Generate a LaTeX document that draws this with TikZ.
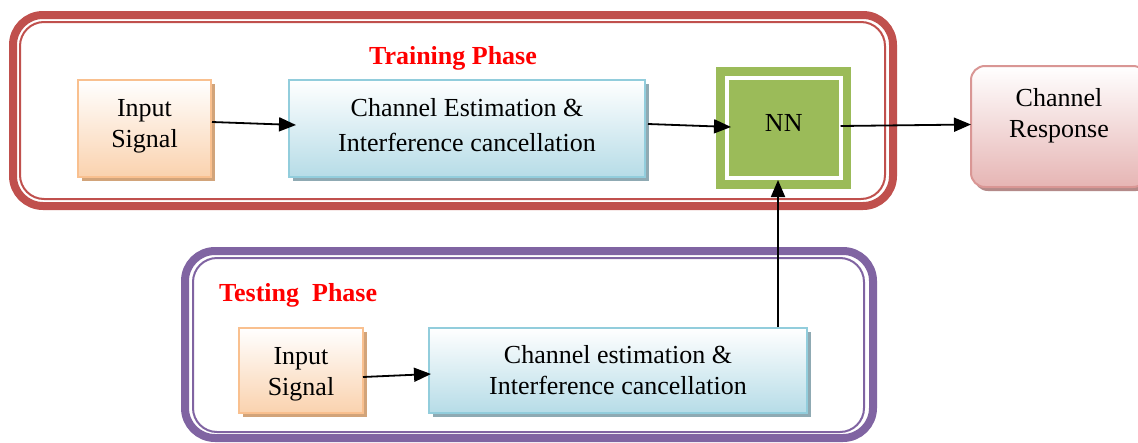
\documentclass[tikz,border=0pt]{standalone}
\usepackage{fontspec}
\setmainfont{Liberation Serif}
\usetikzlibrary{arrows.meta,shadows,calc}
\definecolor{framered}{HTML}{C0504D}
\definecolor{framepurple}{HTML}{8064A2}
\definecolor{nngreen}{HTML}{9BBB59}
\definecolor{orbord}{HTML}{F9C08F}
\definecolor{orfill}{HTML}{FAD2AE}
\definecolor{orshad}{HTML}{D2A47A}
\definecolor{blbord}{HTML}{92CDDC}
\definecolor{blfill}{HTML}{B6DCE7}
\definecolor{blshad}{HTML}{8FAAB3}
\definecolor{rdbord}{HTML}{D99694}
\definecolor{rdfill}{HTML}{E6B5B4}
\definecolor{rdshad}{HTML}{B48A89}
\newcommand{\mytwo}[3]{\raisebox{#1}[\height][\depth]{\begin{tabular}{@{}c@{}}#2\\#3\end{tabular}}}
\begin{document}
\begin{tikzpicture}[x=1pt,y=-1pt,
  every node/.style={font=\fontsize{26}{31}\selectfont, align=center, inner sep=0pt},
  inbox/.style={draw=orbord, line width=2pt, shading=axis, top color=white, bottom color=orfill,
    drop shadow={shadow xshift=4pt,shadow yshift=-4pt,fill=orshad,opacity=1}},
  chbox/.style={draw=blbord, line width=2pt, shading=axis, top color=white, bottom color=blfill,
    drop shadow={shadow xshift=4pt,shadow yshift=-4pt,fill=blshad,opacity=1}},
  resbox/.style={draw=rdbord, line width=2pt, rounded corners=14pt, shading=axis, top color=white, bottom color=rdfill,
    drop shadow={shadow xshift=3pt,shadow yshift=-4pt,fill=rdshad,opacity=1}},
  nnbox/.style={fill=nngreen, draw=white, line width=4pt},
  phasetitle/.style={text=red, font=\fontsize{26}{31}\selectfont\bfseries},
  arr/.style={line width=1.8pt, -{Triangle[length=17pt,width=14pt]}}]
\useasboundingbox (0,0) rectangle (1138,442);
\fill[white] (0,0) rectangle (1138,442);

% training frame
\draw[framered, line width=8pt, rounded corners=30pt] (13,15) rectangle (893,206);
\draw[framered, line width=2pt, rounded corners=24pt] (20,22) rectangle (885,199);
% testing frame
\draw[framepurple, line width=8pt, rounded corners=30pt] (185,251) rectangle (873,438);
\draw[framepurple, line width=2pt, rounded corners=24pt] (193,258) rectangle (864,432);

\node[phasetitle] (tp) at (453,58) {Training Phase};
\node[phasetitle, anchor=west] (sp) at (219,295) {Testing\ \ Phase};

% training row
\node[inbox, minimum width=133pt, minimum height=97pt] (ti) at (144.5,128.5) {\mytwo{2.5pt}{Input}{Signal}};
\node[chbox, minimum width=356pt, minimum height=97pt, font=\fontsize{26}{35}\selectfont] (tc) at (467,128.5) {\mytwo{2pt}{Channel Estimation \&}{Interference cancellation}};
\fill[nngreen] (716,67) rectangle (851,189);
\node[nnbox, minimum width=113.5pt, minimum height=100pt] (nn) at (783.75,128) {\raisebox{5pt}[\height][\depth]{NN}};
\node[resbox, minimum width=176pt, minimum height=121pt] (res) at (1059,126.5) {\mytwo{10.5pt}{Channel}{Response}};

% testing row
\node[inbox, minimum width=124pt, minimum height=85pt] (si) at (301,370.5) {\mytwo{-3.5pt}{Input}{Signal}};
\node[chbox, minimum width=378pt, minimum height=85pt] (sc) at (618,370.5) {\mytwo{-2.5pt}{Channel estimation \&}{Interference cancellation}};

% connectors
\draw[arr] ($(ti.east)+(0,-6.5)$) -- ($(tc.west)+(8,-3.5)$);
\draw[arr] ($(tc.east)+(2,-4.5)$) -- ($(nn.west)+(6,-1)$);
\draw[arr] ($(nn.east)+(-2,-2)$) -- ($(res.west)+(1,-2)$);
\draw[arr] ($(si.east)+(-1,6.5)$) -- ($(sc.west)+(3,3.5)$);
\draw[arr] ($(sc.north east)+(-30,0)$) coordinate (up) -- (up |- nn.south);
\end{tikzpicture}
\end{document}
